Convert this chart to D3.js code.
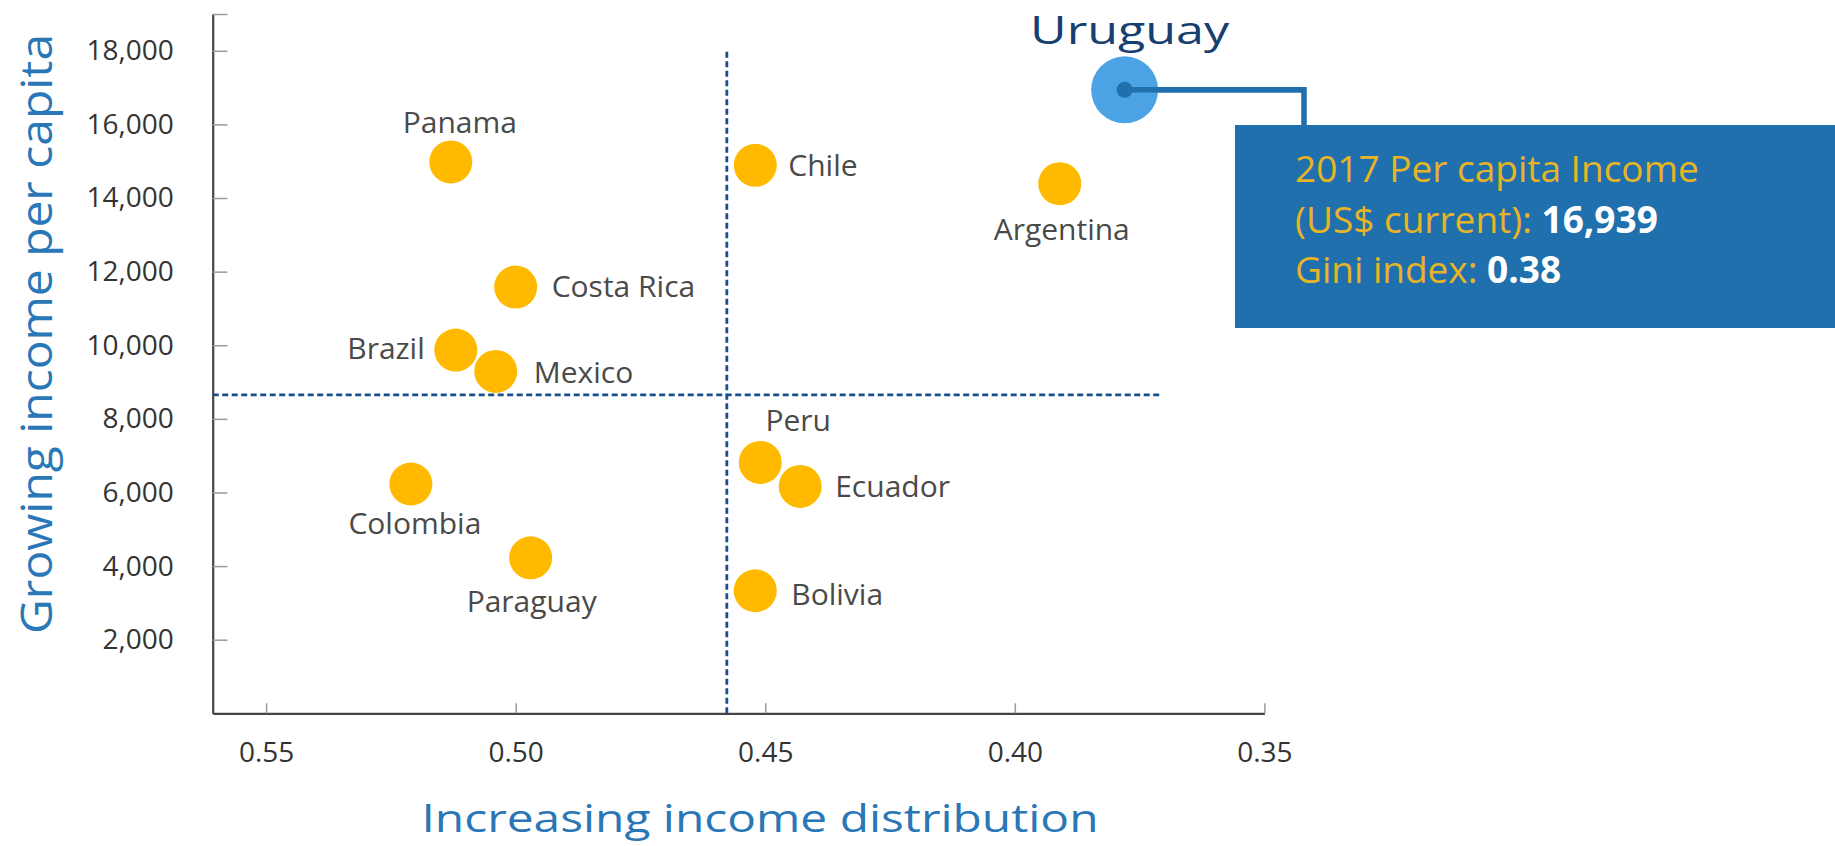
<!DOCTYPE html>
<html>
<head>
<meta charset="utf-8">
<script src="https://cdn.jsdelivr.net/npm/d3@7"></script>
<style>
  body { margin: 0; background: #fff; }
  svg { display: block; font-family: "Open Sans", sans-serif; }
</style>
</head>
<body>
<div id="c"></div>
<script>
// values
var countries = ["Panama", "Chile", "Argentina", "Costa Rica", "Brazil", "Mexico",
                 "Peru", "Ecuador", "Colombia", "Paraguay", "Bolivia"];
var gini   = [0.513, 0.452, 0.391, 0.500, 0.512, 0.504, 0.451, 0.443, 0.521, 0.497, 0.452];
var income = [14980, 14890, 14390, 11580, 9870, 9290, 6815, 6165, 6230, 4225, 3330];

var hl_name = "Uruguay";
var hl_gini = 0.378;
var hl_income = 16939;

var x_ticks = [0.55, 0.50, 0.45, 0.40, 0.35];
var y_ticks = [2000, 4000, 6000, 8000, 10000, 12000, 14000, 16000, 18000, 19000];

var ref_gini = 0.4577;    // vertical dashed line
var ref_income = 8650;    // horizontal dashed line
var ref_gini_end = 0.3705;
var ref_income_top = 18000;

var width = 1835;
var height = 846;

var svg = d3.select("#c").append("svg")
	.attr("width", width)
	.attr("height", height);

var x_scale = d3.scaleLinear()
	.domain([0.5607, 0.35])
	.range([212.7, 1264.4]);

var y_scale = d3.scaleLinear()
	.domain([0, 19000])
	.range([713.3, 14]);

// axes
var y_axis = svg.append("g")
	.attr("transform", "translate(" + x_scale.range()[0] + ",0)")
	.call(d3.axisLeft(y_scale)
		.tickValues(y_ticks)
		.tickSizeInner(-14.7)
		.tickSizeOuter(0)
		.tickPadding(39)
		.tickFormat(function(d) { return d == 19000 ? "" : d3.format(",")(d); }));

var x_axis = svg.append("g")
	.attr("transform", "translate(0," + y_scale.range()[0] + ")")
	.call(d3.axisBottom(x_scale)
		.tickValues(x_ticks)
		.tickSizeInner(-10)
		.tickSizeOuter(0)
		.tickPadding(28.5)
		.tickFormat(d3.format(".2f")));

svg.selectAll(".domain")
	.attr("stroke", "#444")
	.attr("stroke-width", 2.2);
svg.selectAll(".tick line")
	.attr("stroke", "#9a9a9a")
	.attr("stroke-width", 1.5);
svg.selectAll(".tick text")
	.attr("font-family", "'Open Sans', sans-serif")
	.attr("font-size", 28)
	.attr("fill", "#333");

// axis titles
svg.append("text")
	.attr("transform", "translate(52,334) rotate(-90)")
	.attr("text-anchor", "middle")
	.attr("font-size", 43)
	.attr("textLength", 600)
	.attr("lengthAdjust", "spacingAndGlyphs")
	.attr("fill", "#2a77b7")
	.text("Growing  income per capita");

svg.append("text")
	.attr("x", 760)
	.attr("y", 832)
	.attr("text-anchor", "middle")
	.attr("font-size", 38)
	.attr("textLength", 677)
	.attr("lengthAdjust", "spacingAndGlyphs")
	.attr("fill", "#2a77b7")
	.text("Increasing income distribution");

// reference lines
svg.append("line")
	.attr("x1", x_scale(ref_gini))
	.attr("x2", x_scale(ref_gini))
	.attr("y1", y_scale(0))
	.attr("y2", y_scale(ref_income_top))
	.attr("stroke", "#1a4f8f")
	.attr("stroke-width", 2.8)
	.attr("stroke-dasharray", "6,3.5");

svg.append("line")
	.attr("x1", x_scale.range()[0])
	.attr("x2", x_scale(ref_gini_end))
	.attr("y1", y_scale(ref_income))
	.attr("y2", y_scale(ref_income))
	.attr("stroke", "#1a4f8f")
	.attr("stroke-width", 2.8)
	.attr("stroke-dasharray", "6,3.5");

// where each label sits relative to its dot: [anchor, dx, dy]
var label_layout = {
	"Panama":     ["middle", 9, -29],
	"Chile":      ["start", 33, 11],
	"Argentina":  ["middle", 2, 56],
	"Costa Rica": ["start", 36, 10],
	"Brazil":     ["end", -31, 9],
	"Mexico":     ["start", 38, 12],
	"Peru":       ["middle", 38, -31],
	"Ecuador":    ["start", 35, 11],
	"Colombia":   ["middle", 4, 50],
	"Paraguay":   ["middle", 1, 54],
	"Bolivia":    ["start", 36, 14]
};

var data = [];
for (var i = 0; i < countries.length; i++) {
	data.push({ name: countries[i], gini: gini[i], income: income[i] });
}

var pts = svg.selectAll(".country")
	.data(data)
	.enter()
	.append("g")
	.attr("class", "country");

pts.append("circle")
	.attr("cx", function(d) { return x_scale(d.gini); })
	.attr("cy", function(d) { return y_scale(d.income); })
	.attr("r", 21.5)
	.attr("fill", "#ffba00");

pts.append("text")
	.attr("x", function(d) { return x_scale(d.gini) + label_layout[d.name][1]; })
	.attr("y", function(d) { return y_scale(d.income) + label_layout[d.name][2]; })
	.attr("text-anchor", function(d) { return label_layout[d.name][0]; })
	.attr("font-size", 30)
	.attr("fill", "#4a4a4a")
	.text(function(d) { return d.name; });

// highlighted country with call-out box
var hx = x_scale(hl_gini), hy = y_scale(hl_income);

svg.append("rect")
	.attr("x", 1235)
	.attr("y", 125)
	.attr("width", width - 1235)
	.attr("height", 203)
	.attr("fill", "#2070ae");

svg.append("path")
	.attr("d", "M" + hx + "," + hy + " H1304 V126")
	.attr("fill", "none")
	.attr("stroke", "#2070ae")
	.attr("stroke-width", 5.5);

svg.append("circle")
	.attr("cx", hx)
	.attr("cy", hy)
	.attr("r", 33.5)
	.attr("fill", "#4ba3e6");

svg.append("circle")
	.attr("cx", hx)
	.attr("cy", hy)
	.attr("r", 8)
	.attr("fill", "#2070ae");

svg.append("path")
	.attr("d", "M" + hx + "," + hy + " H1304")
	.attr("stroke", "#2070ae")
	.attr("stroke-width", 5.5);

svg.append("text")
	.attr("x", hx + 5)
	.attr("y", 44)
	.attr("text-anchor", "middle")
	.attr("font-size", 39)
	.attr("textLength", 199)
	.attr("lengthAdjust", "spacingAndGlyphs")
	.attr("fill", "#173f70")
	.text(hl_name);

var box_lines = [
	["2017 Per capita Income", ""],
	["(US$ current): ", d3.format(",")(hl_income)],
	["Gini index: ", d3.format(".2f")(hl_gini)]
];

box_lines.forEach(function(l, i) {
	var t = svg.append("text")
		.attr("x", 1295)
		.attr("y", 182 + i * 50.7)
		.attr("font-size", 37)
		.attr("fill", "#e8b425");
	t.append("tspan").text(l[0]);
	if (l[1]) {
		t.append("tspan")
			.attr("fill", "#fff")
			.attr("font-weight", "bold")
			.text(l[1]);
	}
});
</script>
</body>
</html>
